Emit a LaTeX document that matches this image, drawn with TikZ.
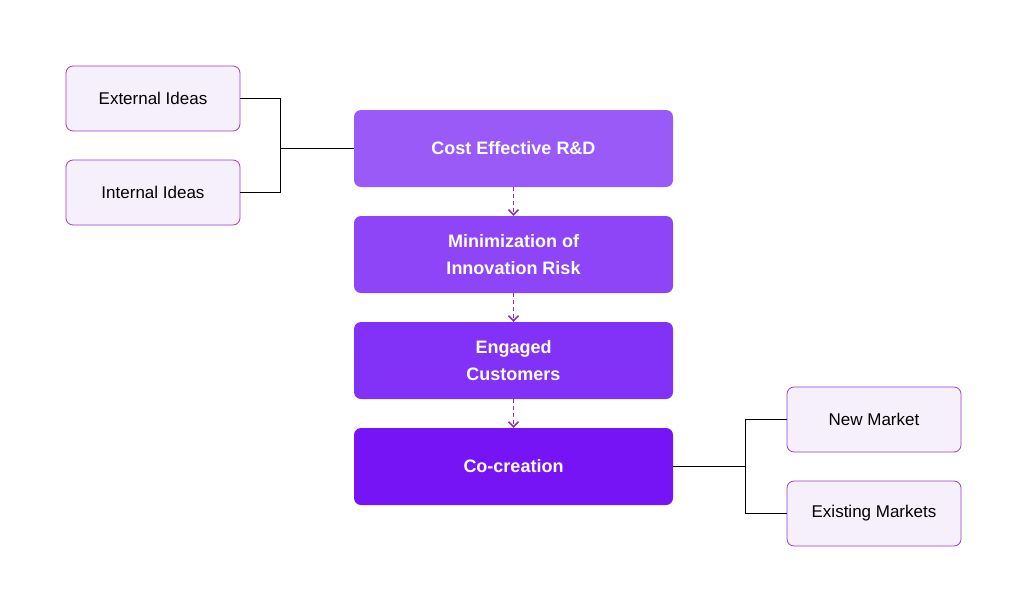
\documentclass[tikz,border=0pt]{standalone}
\usepackage{fontspec}
\setmainfont{Liberation Sans}
\usetikzlibrary{arrows.meta}
\definecolor{c1}{HTML}{9A5AF8}
\definecolor{c2}{HTML}{8D45F7}
\definecolor{c3}{HTML}{8231F7}
\definecolor{c4}{HTML}{7614F5}
\definecolor{sidefill}{HTML}{F6F0FD}
\definecolor{sideline}{HTML}{9B3FCB}
\definecolor{arr}{HTML}{8A2FC0}
\begin{document}
\begin{tikzpicture}[x=1pt,y=-1pt,
 main/.style={draw=none,rounded corners=7pt,minimum width=319pt,minimum height=77pt,text=white,font=\fontsize{18}{27}\selectfont\bfseries,align=center,inner sep=0pt},
 side/.style={draw=sideline,fill=sidefill,rounded corners=7pt,minimum width=174pt,minimum height=65pt,font=\fontsize{17}{20}\selectfont,inner sep=0pt,line width=0.8pt},
 link/.style={black,line width=0.8pt},
 flow/.style={arr,line width=1.5pt,dash pattern=on 4pt off 3pt,-{Straight Barb[length=5pt,width=10pt,line width=1.5pt]}}]
\useasboundingbox (0,0) rectangle (1028,613);
\fill[white] (0,0) rectangle (1028,613);
\node[main,fill=c1] (a) at (513.5,148.5) {Cost Effective R\&D};
\node[main,fill=c2] (b) at (513.5,254.5) {Minimization of\\Innovation Risk};
\node[main,fill=c3] (c) at (513.5,360.5) {Engaged\\Customers};
\node[main,fill=c4] (d) at (513.5,466.5) {Co-creation};
\node[side] (e) at (153,98.5) {External Ideas};
\node[side] (i) at (153,192.5) {Internal Ideas};
\node[side] (n) at (874,419.5) {New Market};
\node[side] (x) at (874,513.5) {Existing Markets};
\draw[flow] (a.south) -- (b.north);
\draw[flow] (b.south) -- (c.north);
\draw[flow] (c.south) -- (d.north);
\coordinate (lj) at (280,148.5);
\draw[link] (e.east) -| (lj);
\draw[link] (i.east) -| (lj);
\draw[link] (lj) -- (a.west);
\coordinate (rj) at (745,466.5);
\draw[link] (d.east) -- (rj);
\draw[link] (rj) |- (n.west);
\draw[link] (rj) |- (x.west);
\end{tikzpicture}
\end{document}
